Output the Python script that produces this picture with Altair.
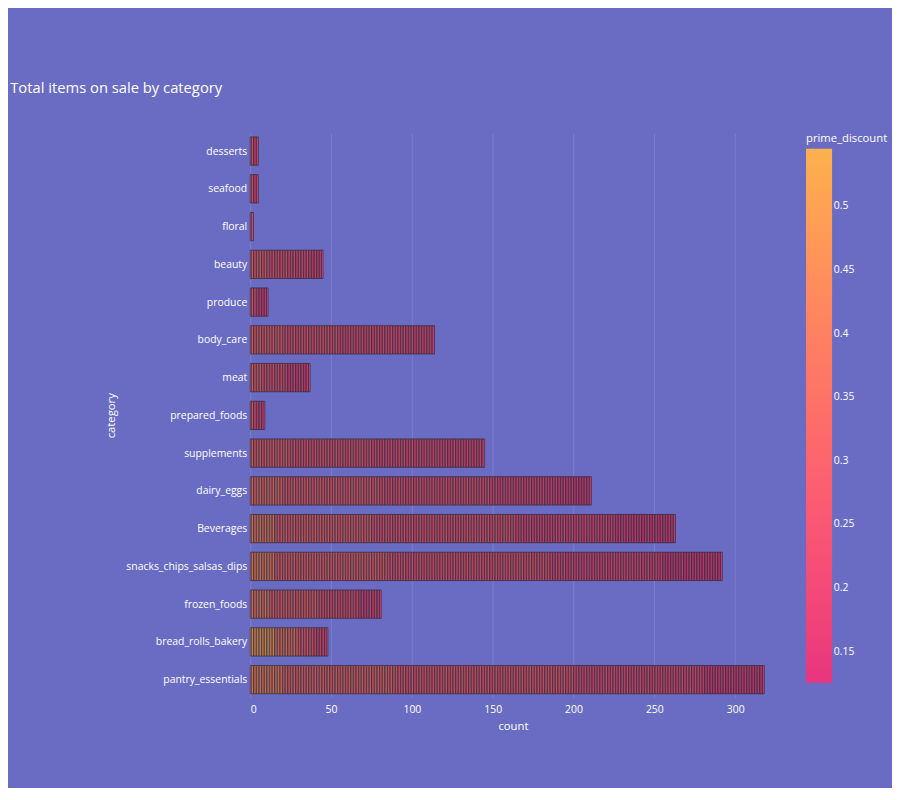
import altair as alt
import pandas as pd

# categories top to bottom as drawn
categories = ["desserts", "seafood", "floral", "beauty", "produce", "body_care", "meat",
              "prepared_foods", "supplements", "dairy_eggs", "Beverages",
              "snacks_chips_salsas_dips", "frozen_foods", "bread_rolls_bakery", "pantry_essentials"]

# per category: runs of (item count, prime_discount) from left to right
segments = {
    "desserts": [(2, 0.25), (3, 0.2)],
    "seafood": [(2, 0.25), (3, 0.2)],
    "floral": [(2, 0.25)],
    "beauty": [(10, 0.3), (15, 0.25), (12, 0.22), (8, 0.18)],
    "produce": [(4, 0.25), (7, 0.17)],
    "body_care": [(20, 0.3), (35, 0.25), (35, 0.22), (24, 0.2)],
    "meat": [(8, 0.3), (14, 0.25), (15, 0.18)],
    "prepared_foods": [(4, 0.25), (5, 0.18)],
    "supplements": [(25, 0.3), (50, 0.25), (45, 0.22), (25, 0.2)],
    "dairy_eggs": [(20, 0.35), (60, 0.28), (70, 0.24), (40, 0.2), (21, 0.16)],
    "Beverages": [(15, 0.4), (60, 0.3), (90, 0.25), (60, 0.2), (38, 0.16)],
    "snacks_chips_salsas_dips": [(15, 0.42), (70, 0.3), (100, 0.25), (70, 0.2), (37, 0.15)],
    "frozen_foods": [(12, 0.4), (30, 0.3), (25, 0.24), (14, 0.18)],
    "bread_rolls_bakery": [(15, 0.5), (15, 0.38), (10, 0.28), (8, 0.2)],
    "pantry_essentials": [(20, 0.42), (70, 0.32), (110, 0.26), (80, 0.22), (38, 0.16)],
}

rows = []
for cat in categories:
    i = 0
    for n, d in segments[cat]:
        for _ in range(n):
            rows.append({"category": cat, "idx": i, "count": 1, "prime_discount": d})
            i += 1
df = pd.DataFrame(rows)

bg = "#6a6cc4"

chart = alt.Chart(df).mark_bar(stroke="#2a2a3a", strokeWidth=0.8).encode(
    x=alt.X("sum(count):Q", title="count", scale=alt.Scale(domain=[0, 325]),
            axis=alt.Axis(values=[0, 50, 100, 150, 200, 250, 300], labelPadding=8, titlePadding=8)),
    y=alt.Y("category:N", sort=categories, title="category",
            scale=alt.Scale(paddingInner=0.25, paddingOuter=0.1),
            axis=alt.Axis(labelPadding=4, titlePadding=10)),
    color=alt.Color("prime_discount:Q",
                    scale=alt.Scale(domain=[0.125, 0.545],
                                    range=["#e8357f", "#fb5b72", "#fe8262", "#fdb14f"]),
                    legend=alt.Legend(title="prime_discount", gradientLength=615,
                                      gradientThickness=30, format=".2~f",
                                      values=[0.15, 0.2, 0.25, 0.3, 0.35, 0.4, 0.45, 0.5],
                                      direction="vertical")),
    order=alt.Order("idx:Q"),
    tooltip=["category", "prime_discount"],
).properties(
    width=605, height=650,
    background=bg,
    padding={"left": 2, "top": 25, "right": 5, "bottom": 5},
    title=alt.TitleParams("Total items on sale by category", anchor="start", fontSize=17,
                          fontWeight="normal", color="white", offset=42, dx=-110),
).configure_view(stroke=None, fill=bg).configure_axis(
    labelColor="white", titleColor="white", labelFontSize=12, titleFontSize=13,
    titleFontWeight="normal", domain=False, ticks=False, labelFont="Open Sans", titleFont="Open Sans",
).configure_axisY(grid=False).configure_axisX(gridColor="#7d80cc").configure_legend(
    labelColor="white", titleColor="white", titleFontSize=13, titleFontWeight="normal",
    labelFontSize=12, titleFont="Open Sans", labelFont="Open Sans", offset=35,
).configure_title(font="Open Sans")

chart.save("out.html", embed_options={"renderer": "svg", "actions": False})
